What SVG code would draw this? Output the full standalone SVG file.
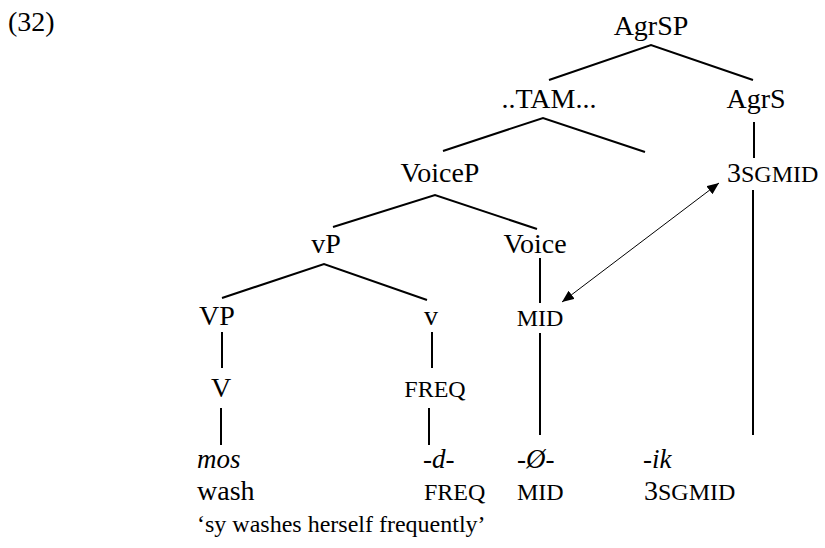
<svg xmlns="http://www.w3.org/2000/svg" width="825" height="548" viewBox="0 0 825 548" font-family="'Liberation Serif', 'Times New Roman', Tinos, 'DejaVu Serif', serif">
<defs>
<style>
text{fill:#000;font-size:28px}
.sc{font-size:24px}
.it{font-style:italic;font-size:27px}
.gl{font-size:24px}
.edge{stroke:#000;stroke-width:2;fill:none;stroke-linecap:butt}
.arrow{stroke:#000;stroke-width:1;fill:none}
</style>
<marker id="ah" viewBox="0 0 12 10" refX="12" refY="5" markerWidth="12" markerHeight="10" markerUnits="userSpaceOnUse" orient="auto-start-reverse">
<path d="M0,0 L12,5 L0,10 z" fill="#000"/>
</marker>
</defs>
<rect width="825" height="548" fill="#fff"/>
<text x="8" y="31" font-size="25">(32)</text>
<g id="connectors">
<path class="edge" d="M549,80 L651,45 L753,80"/>
<path class="edge" d="M443,151 L543,118 L645,152"/>
<path class="edge" d="M333,227 L435,195 L537,229"/>
<path class="edge" d="M222,298 L324,264 L427,300"/>
<path class="edge" d="M754,122 V158"/>
<path class="edge" d="M540,258 V303"/>
<path class="edge" d="M222,332 V368"/>
<path class="edge" d="M432,332 V368"/>
<path class="edge" d="M221,408 V445"/>
<path class="edge" d="M429,408 V445"/>
<path class="edge" d="M540,333 V435"/>
<path class="edge" d="M753,190 V435"/>
<path class="arrow" d="M562,302 L719,183" marker-start="url(#ah)" marker-end="url(#ah)"/>
</g>
<g id="AgrSP"><text x="651" y="35" text-anchor="middle">AgrSP</text></g>
<g id="TAM"><text x="549" y="108" text-anchor="middle">..TAM...</text></g>
<g id="AgrS"><text x="756" y="108" text-anchor="middle">AgrS</text></g>
<g id="agr3sgmid"><text x="727" y="182">3<tspan class="sc">SGMID</tspan></text></g>
<g id="VoiceP"><text x="440" y="182" text-anchor="middle">VoiceP</text></g>
<g id="vP"><text x="326" y="253" text-anchor="middle">vP</text></g>
<g id="Voice"><text x="535" y="253" text-anchor="middle">Voice</text></g>
<g id="VP"><text x="217" y="325" text-anchor="middle">VP</text></g>
<g id="v"><text x="431" y="325" text-anchor="middle">v</text></g>
<g id="MID"><text x="540" y="326" text-anchor="middle" class="sc">MID</text></g>
<g id="V"><text x="221" y="397" text-anchor="middle">V</text></g>
<g id="FREQ"><text x="435" y="397" text-anchor="middle" class="sc">FREQ</text></g>
<g id="gloss-row">
<text x="197" y="468" class="it">mos</text>
<text x="423" y="468" class="it">-d-</text>
<text x="517" y="468" class="it">-Ø-</text>
<text x="643" y="468" class="it">-ik</text>
<text x="197" y="500">wash</text>
<text x="424" y="500" class="sc">FREQ</text>
<text x="517" y="500" class="sc">MID</text>
<text x="644" y="500">3<tspan class="sc">SGMID</tspan></text>
<text x="197" y="532" class="gl">‘sy washes herself frequently’</text>
</g>
</svg>
